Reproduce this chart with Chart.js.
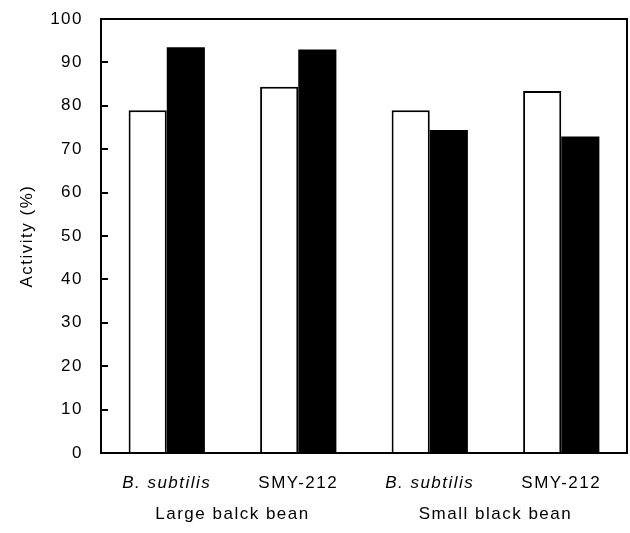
<!DOCTYPE html>
<html>
<head>
<meta charset="utf-8">
<script src="https://cdn.jsdelivr.net/npm/chart.js@4"></script>
<style>
  html, body { margin: 0; padding: 0; background: #fff; }
  #wrap { width: 630px; height: 533px; }
</style>
</head>
<body>
<div id="wrap"><canvas id="activityChart" width="630" height="533"></canvas></div>
<script>
// data
const strains = ['B. subtilis', 'SMY-212', 'B. subtilis', 'SMY-212'];
const beans = ['Large balck bean', 'Small black bean'];
const openBars = [79.0, 84.4, 79.0, 83.4];
const filledBars = [93.5, 93.0, 74.4, 72.9];
const yTicks = [0, 10, 20, 30, 40, 50, 60, 70, 80, 90, 100];

const FONT = { family: '"Liberation Sans", Arial, sans-serif', size: 17 };

// wide letter spacing like the scanned figure
const spacing = {
  id: 'spacing',
  beforeDraw(chart) { chart.ctx.letterSpacing = '1.5px'; }
};

// frame round the plot + inward y ticks
const frame = {
  id: 'frame',
  afterDraw(chart) {
    const { ctx, chartArea: a } = chart;
    const y = chart.scales.y;
    ctx.save();
    ctx.strokeStyle = '#000';
    ctx.lineWidth = 2;
    ctx.strokeRect(a.left, a.top, a.right - a.left, a.bottom - a.top);
    ctx.beginPath();
    y.ticks.forEach((t, i) => {
      const py = Math.round(y.getPixelForTick(i));
      ctx.moveTo(a.left, py);
      ctx.lineTo(a.left + 7, py);
    });
    ctx.stroke();
    ctx.restore();
  }
};

new Chart(document.getElementById('activityChart'), {
  type: 'bar',
  data: {
    labels: strains,
    datasets: [
      {
        label: 'open',
        data: openBars,
        backgroundColor: '#fff',
        borderColor: '#000',
        borderWidth: 2,
        xAxisID: 'x'
      },
      {
        label: 'filled',
        data: filledBars,
        backgroundColor: '#000',
        borderColor: '#000',
        borderWidth: 0,
        xAxisID: 'x'
      }
    ]
  },
  options: {
    responsive: false,
    animation: false,
    layout: { padding: { left: 0, right: 3, top: 19, bottom: 0 } },
    datasets: { bar: { categoryPercentage: 0.58, barPercentage: 1.0 } },
    plugins: { legend: { display: false }, tooltip: { enabled: false } },
    scales: {
      x: {
        position: 'bottom',
        grid: { display: false, drawTicks: false },
        border: { color: '#000', width: 2 },
        ticks: {
          color: '#000',
          padding: 20,
          font: ctx => ({ ...FONT, style: String(ctx.tick && ctx.tick.label).startsWith('B.') ? 'italic' : 'normal' })
        },
        afterFit: s => { s.height = 45; s.paddingLeft = 0; s.paddingRight = 0; }
      },
      group: {
        type: 'category',
        labels: beans,
        position: 'bottom',
        grid: { display: false, drawTicks: false },
        border: { display: false },
        ticks: { color: '#000', padding: 6, font: FONT },
        afterFit: s => { s.height = 35; s.paddingLeft = 0; s.paddingRight = 0; }
      },
      y: {
        min: 0,
        max: 100,
        afterBuildTicks: s => { s.ticks = yTicks.map(v => ({ value: v })); },
        grid: { display: false, drawTicks: false },
        border: { color: '#000', width: 2 },
        ticks: { color: '#000', padding: 18, font: FONT },
        title: { display: true, text: 'Activity (%)', color: '#000', font: FONT, padding: { top: 17, bottom: 0 } },
        afterFit: s => { s.width = 101; s.paddingTop = 0; s.paddingBottom = 0; }
      }
    }
  },
  plugins: [spacing, frame]
});
</script>
</body>
</html>
